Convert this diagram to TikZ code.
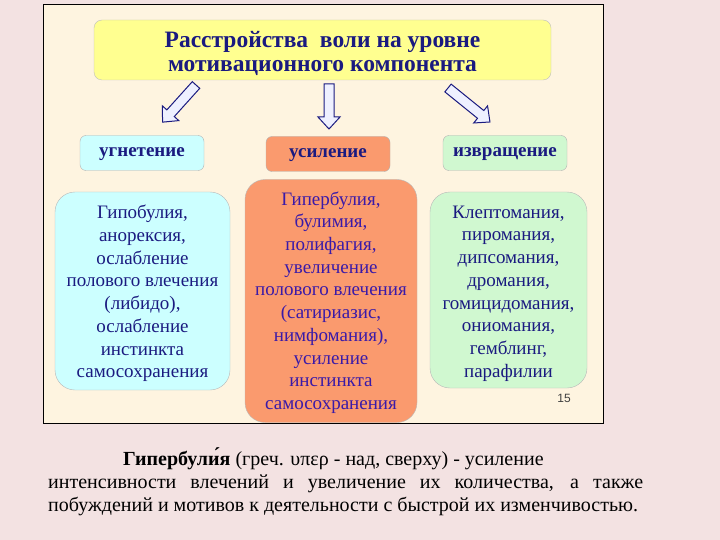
\documentclass[tikz,border=0pt]{standalone}
\usepackage{fontspec}
\setmainfont{Liberation Serif}
\newfontfamily\numfont{Liberation Sans}
\definecolor{bgpink}{HTML}{F3E2E2}
\definecolor{cream}{HTML}{FEF4E0}
\definecolor{ttlyellow}{HTML}{FFFF90}
\definecolor{cyanbox}{HTML}{CCFFFF}
\definecolor{salmonbox}{HTML}{FA9A6E}
\definecolor{greenbox}{HTML}{D0F8D0}
\definecolor{navy}{HTML}{1A1A80}
\definecolor{purpletxt}{HTML}{3A1AA8}
\definecolor{arrowfill}{HTML}{EEF0FF}
\tikzset{
  ttlbox/.style={rounded corners=8pt, fill=ttlyellow, draw=gray!50, thin, inner sep=0pt},
  ttltext/.style={text=navy, font=\fontsize{23.5}{24}\selectfont\bfseries, align=center, inner sep=0pt},
  headbox/.style={rounded corners=6pt, draw=gray!60, thin, minimum width=124pt, minimum height=35pt, inner sep=0pt},
  headtext/.style={text=navy, font=\fontsize{19}{20}\selectfont\bfseries, inner sep=0pt},
  bigbox/.style={rounded corners=20pt, draw=gray!55, thin, inner sep=0pt},
  bigtext/.style={text=navy, font=\fontsize{19}{22.7}\selectfont, align=center, inner sep=0pt},
  bottomtext/.style={anchor=base west, font=\fontsize{20}{23}\selectfont, inner sep=0pt},
  barrow/.style={draw=navy, fill=arrowfill, line width=1pt, line join=miter},
  pics/blockarrow/.style={code={
    \draw[barrow] (0,-5) -- (#1-12,-5) -- (#1-12,-11) -- (#1,0) -- (#1-12,11) -- (#1-12,5) -- (0,5) -- cycle;}}
}
\begin{document}
\begin{tikzpicture}[x=1pt,y=-1pt]
\useasboundingbox[fill=bgpink] (0,0) rectangle (720,540);
\node[draw=black, line width=1pt, fill=cream, minimum width=560pt, minimum height=419pt, inner sep=0pt] (panel) at (323,214) {};
\node[ttlbox, minimum width=457pt, minimum height=60pt] (title) at (322.5,50) {};
\node[ttltext] (titletext) at ([yshift=-3pt]title.center)
  {Расстройства\ \ воли на уровне\\мотивационного компонента};
\node[headbox, fill=cyanbox] (h1) at (142,153) {};
\node[headbox, fill=salmonbox] (h2) at (328,154) {};
\node[headbox, fill=greenbox] (h3) at (505,153) {};
\node[headtext] (h1t) at ([yshift=-1.5pt]h1.center) {угнетение};
\node[headtext] (h2t) at ([yshift=-1.5pt]h2.center) {усиление};
\node[headtext] (h3t) at ([yshift=-1.5pt]h3.center) {извращение};
\node[bigbox, fill=cyanbox, minimum width=175pt, minimum height=198pt] (b1) at (142.5,291) {};
\node[bigbox, fill=salmonbox, minimum width=172pt, minimum height=243pt] (b2) at (331,301) {};
\node[bigbox, fill=greenbox, minimum width=157pt, minimum height=196pt] (b3) at (508.5,290) {};
\node[bigtext] (b1t) at ([yshift=-2.5pt]b1.center)
  {Гипобулия,\\анорексия,\\ослабление\\полового влечения\\(либидо),\\ослабление\\инстинкта\\самосохранения};
\node[bigtext, text=purpletxt] (b2t) at ([yshift=-1.5pt]b2.center)
  {Гипербулия,\\булимия,\\полифагия,\\увеличение\\полового влечения\\(сатириазис,\\нимфомания),\\усиление\\инстинкта\\самосохранения};
\node[bigtext] (b3t) at ([yshift=-3.5pt]b3.center)
  {Клептомания,\\пиромания,\\дипсомания,\\дромания,\\гомицидомания,\\ониомания,\\гемблинг,\\парафилии};
\node[font=\numfont\fontsize{12}{14}\selectfont, text=black!75] (pg) at (564,398) {15};
\coordinate (t1) at (196,85);
\coordinate (t2) at (329,84);
\coordinate (t3) at (448,88);
\pic[rotate=228] at (t1) {blockarrow=50};
\pic[rotate=270] at (t2) {blockarrow=45};
\pic[rotate=-39] at (t3) {blockarrow=54};
\node[bottomtext] (l1) at (123,465)
  {\textbf{Гипербули́я} (греч. υπερ - над, сверху) - усиление};
\node[bottomtext] (l2) at (48,488)
  {\makebox[595pt][s]{интенсивности влечений и увеличение их количества, а также}};
\node[bottomtext] (l3) at (48,511)
  {побуждений и мотивов к деятельности с быстрой их изменчивостью.};
\end{tikzpicture}
\end{document}
